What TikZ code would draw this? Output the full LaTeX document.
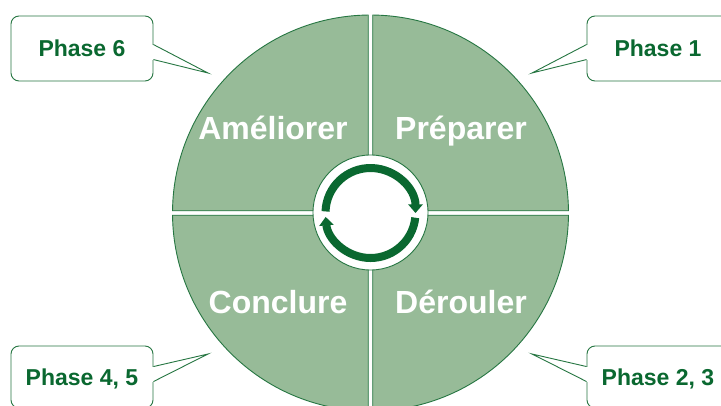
\documentclass[tikz,border=0pt]{standalone}
\usepackage{fontspec}
\setmainfont{Liberation Sans}
\usetikzlibrary{arrows.meta,calc}
\definecolor{quadfill}{RGB}{151,187,152}
\definecolor{quadline}{RGB}{38,118,66}
\definecolor{darkgr}{RGB}{10,104,48}
\tikzset{
  quad/.style={fill=quadfill,draw=quadline,line width=0.9pt},
  qlabel/.style={text=white,font=\bfseries\fontsize{32}{32}\selectfont,anchor=base,inner sep=0pt},
  callout/.style={draw=quadline,line width=0.9pt,fill=white,rounded corners=8pt,minimum width=142pt,
    text=darkgr,font=\bfseries\fontsize{23}{23}\selectfont,text height=16.5pt,text depth=0pt,inner sep=0pt},
  pointer/.style={draw=quadline,line width=0.9pt,line join=miter},
  cyclearrow/.style={draw=darkgr,line width=8pt,-{Triangle[width=14pt,length=8.5pt]}}
}
\begin{document}
\begin{tikzpicture}[x=1pt,y=1pt]
\useasboundingbox (0,0) rectangle (721,405);
\clip (0,0) rectangle (721,405);
\fill[white] (0,0) rectangle (721,405);
\coordinate (c) at (370.5,192);
% quadrants
\begin{scope}[shift={(c)}]
\draw[quad] (2.2,2.2) -- (89.36:198pt) arc[start angle=89.36,end angle=0.64,radius=198pt] -- cycle;
\draw[quad] (-2.2,2.2) -- (90.64:198pt) arc[start angle=90.64,end angle=179.36,radius=198pt] -- cycle;
\draw[quad] (-2.2,-2.2) -- (180.64:198pt) arc[start angle=180.64,end angle=269.36,radius=198pt] -- cycle;
\draw[quad] (2.2,-2.2) -- (270.64:198pt) arc[start angle=270.64,end angle=359.36,radius=198pt] -- cycle;
\end{scope}
% inner circle
\node[circle,draw=quadline,line width=0.9pt,fill=white,minimum size=115pt,inner sep=0pt] (hub) at (370.5,192.5) {};
% cycle arrows
\draw[cyclearrow] ($(c)+(178:45pt)$) arc[start angle=178,end angle=0,radius=45pt];
\draw[cyclearrow] ($(c)+(-6:45pt)$) arc[start angle=-6,end angle=-175,radius=45pt];
% labels
\node[qlabel] (ame) at (273,265) {Améliorer};
\node[qlabel] (pre) at (461,265.5) {Préparer};
\node[qlabel] (con) at (278,91.7) {Conclure};
\node[qlabel] (der) at (461,92) {Dérouler};
% callouts
\node[callout,minimum height=65pt] (p6) at (82,356.5) {Phase 6};
\node[callout,minimum height=65pt] (p1) at (658,356.5) {Phase 1};
\node[callout,minimum height=62pt] (p45) at (82,28) {Phase 4, 5};
\node[callout,minimum height=62pt] (p23) at (658,28) {Phase 2, 3};
\coordinate (t6) at (208,332);
\coordinate (t1) at (532,332);
\coordinate (t45) at (208,51);
\coordinate (t23) at (532,51);
% pointers
\coordinate (a6) at ($(p6.north east)+(0,-29)$);
\coordinate (b6) at ($(p6.north east)+(0,-44)$);
\coordinate (a1) at ($(p1.north west)+(0,-29)$);
\coordinate (b1) at ($(p1.north west)+(0,-44)$);
\coordinate (a45) at ($(p45.north east)+(0,-21)$);
\coordinate (b45) at ($(p45.north east)+(0,-36)$);
\coordinate (a23) at ($(p23.north west)+(0,-21)$);
\coordinate (b23) at ($(p23.north west)+(0,-36)$);
\foreach \a/\b in {a6/b6,a1/b1,a45/b45,a23/b23}{
  \fill[white] ($(\a)+(-1.5,0)$) rectangle ($(\b)+(1.5,0)$);
}
\draw[pointer] (a6) -- (t6) -- (b6);
\draw[pointer] (a1) -- (t1) -- (b1);
\draw[pointer] (a45) -- (t45) -- (b45);
\draw[pointer] (a23) -- (t23) -- (b23);
\end{tikzpicture}
\end{document}
